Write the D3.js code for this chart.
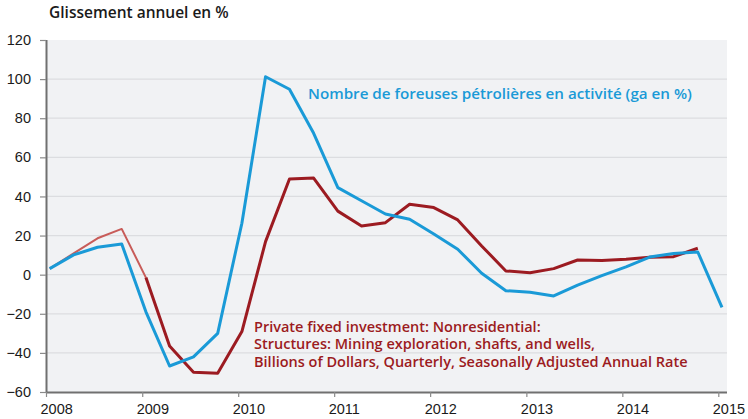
<!DOCTYPE html>
<html><head><meta charset="utf-8">
<script src="https://cdn.jsdelivr.net/npm/d3@7"></script>
<style>
body{margin:0;background:#fff;}
svg{display:block;font-family:"Open Sans",Lato,sans-serif;}
</style></head>
<body><svg id="c" width="748" height="419"></svg>
<script>
const dates = ["2008-01-15","2008-04-15","2008-07-15","2008-10-15",
"2009-01-15","2009-04-15","2009-07-15","2009-10-15",
"2010-01-15","2010-04-15","2010-07-15","2010-10-15",
"2011-01-15","2011-04-15","2011-07-15","2011-10-15",
"2012-01-15","2012-04-15","2012-07-15","2012-10-15",
"2013-01-15","2013-04-15","2013-07-15","2013-10-15",
"2014-01-15","2014-04-15","2014-07-15","2014-10-15",
"2015-01-15"];
const rigCount = [3.1,10.1,14.0,15.7, -19,-46.7,-42,-30, 26.3,101.2,94.8,72.3,
 44.5,37.8,31,28.3, 20.8,13,0.7,-8.2, -9,-10.9,-5.3,-0.5, 4,9,10.8,11.6, -16.7];
const investment = [3.1,10.9,18.6,23.4, -1.5,-36.5,-49.9,-50.4, -29.1,16.9,48.9,49.4,
 32.5,24.9,26.6,36, 34.3,28,14.7,1.9, 1.0,3.1,7.5,7.3, 7.9,8.9,9.2,13.5];
const yTicks = [-60,-40,-20,0,20,40,60,80,100,120];
const xTickYears = ["2008","2009","2010","2011","2012","2013","2014","2015"];
const title = "Glissement annuel en %";
const blueLabel = "Nombre de foreuses pétrolières en activité (ga en %)";
const redLabel = ["Private fixed investment: Nonresidential:",
 "Structures: Mining exploration, shafts, and wells,",
 "Billions of Dollars, Quarterly, Seasonally Adjusted Annual Rate"];

const parse = d3.timeParse("%Y-%m-%d");
const pYear = d3.timeParse("%Y");
const svg = d3.select("#c");
const L=46, R=727, T=40, B=392;
const x = d3.scaleTime().domain([pYear("2008"), pYear("2015")]).range([46, 718.3]);
const y = d3.scaleLinear().domain([-60,120]).range([B,T]);

svg.append("rect").attr("x",L).attr("y",T).attr("width",R-L).attr("height",B-T).attr("fill","#f1f2f4");
svg.append("g").selectAll("line").data(yTicks.filter(v=>v>-60&&v<120)).join("line")
 .attr("x1",L).attr("x2",R).attr("y1",d=>y(d)).attr("y2",d=>y(d))
 .attr("stroke","#dcdde0").attr("stroke-width",1.3);

// y axis
const ya = svg.append("g").attr("transform",`translate(${L},0)`)
 .call(d3.axisLeft(y).tickValues(yTicks).tickSize(6).tickPadding(9).tickFormat(d3.format("d")));
ya.select(".domain").attr("stroke","#707070").attr("stroke-width",2).attr("d",`M0.5,${T}V${B}`);
ya.selectAll(".tick line").attr("stroke","#8a8a8a").attr("stroke-width",1.2);
ya.selectAll("text").attr("font-size",14.5).attr("fill","#1a1a1a");

// x axis
const xa = svg.append("g").attr("transform",`translate(0,${B})`)
 .call(d3.axisBottom(x).tickValues(xTickYears.map(pYear)).tickSize(5).tickPadding(7).tickFormat(d3.timeFormat("%Y")));
xa.select(".domain").attr("stroke","#707070").attr("stroke-width",2).attr("d",`M${L},0.5H${R}`);
xa.selectAll(".tick line").attr("stroke","#8a8a8a").attr("stroke-width",1.2);
xa.selectAll("text").attr("font-size",14.5).attr("fill","#1a1a1a").attr("text-anchor","start").attr("dx",-6);

const line = d3.line().x(d=>x(parse(d[0]))).y(d=>y(d[1]));
const redPts = investment.map((v,i)=>[dates[i],v]);
const bluePts = rigCount.map((v,i)=>[dates[i],v]);

svg.append("path").attr("d",line(redPts.slice(0,5))).attr("fill","none")
 .attr("stroke","#c85c59").attr("stroke-width",2).attr("stroke-linejoin","round");
svg.append("path").attr("d",line(redPts.slice(4))).attr("fill","none")
 .attr("stroke","#9c1b21").attr("stroke-width",3).attr("stroke-linejoin","round");
svg.append("path").attr("d",line(bluePts)).attr("fill","none")
 .attr("stroke","#1a9ad7").attr("stroke-width",3).attr("stroke-linejoin","round");

svg.append("text").attr("x",49).attr("y",18).attr("font-size",15.5).attr("font-weight",600)
 .attr("fill","#1a1a1a").text(title);
svg.append("text").attr("x",308).attr("y",99).attr("font-size",15.2).attr("font-weight",600)
 .attr("fill","#1a9ad7").text(blueLabel);
svg.append("g").selectAll("text").data(redLabel).join("text")
 .attr("x",254).attr("y",(d,i)=>331.5+i*17.5).attr("font-size",14.5).attr("font-weight",600)
 .attr("fill","#9c1b21").text(d=>d);
</script></body></html>
